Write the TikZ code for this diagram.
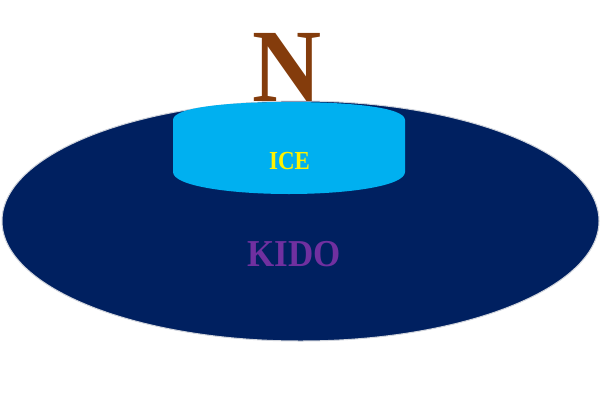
\documentclass[tikz,border=0pt]{standalone}
\usepackage{fontspec}
\setmainfont{Liberation Serif}
\definecolor{navy}{HTML}{002060}
\definecolor{iceblue}{HTML}{00B0F0}
\definecolor{kidopurple}{HTML}{7030A0}
\definecolor{nbrown}{HTML}{843C0C}
\definecolor{rimgray}{HTML}{D0D4DC}
\tikzset{
  label text/.style={font=\bfseries, inner sep=0pt, anchor=center},
}
\begin{document}
\begin{tikzpicture}[x=1pt,y=-1pt]
\useasboundingbox (0,0) rectangle (610,410);
\fill[white] (0,0) rectangle (610,410);
% big ellipse
\draw[fill=navy, draw=rimgray, line width=1pt] (300.5,221) ellipse [x radius=298.5, y radius=120];
\coordinate (kidoc) at (294,254);
% ice shape
\fill[iceblue] (173,120) -- (173,172) .. controls (173,186) and (230,194) .. (289,194)
  .. controls (348,194) and (405,186) .. (405,172) -- (405,120)
  .. controls (405,107) and (348,102) .. (289,102)
  .. controls (230,102) and (173,107) .. (173,120) -- cycle;
% texts
\node[label text, text=yellow, font=\bfseries\fontsize{26}{26}\selectfont, xscale=0.88] (ice) at (289.5,161) {ICE};
\node[label text, text=kidopurple, font=\bfseries\fontsize{38}{38}\selectfont, xscale=0.92] (kido) at (kidoc) {KIDO};
\node[label text, text=nbrown, font=\bfseries\fontsize{104}{104}\selectfont, xscale=0.92] (n) at (287,67) {N};
\end{tikzpicture}
\end{document}
